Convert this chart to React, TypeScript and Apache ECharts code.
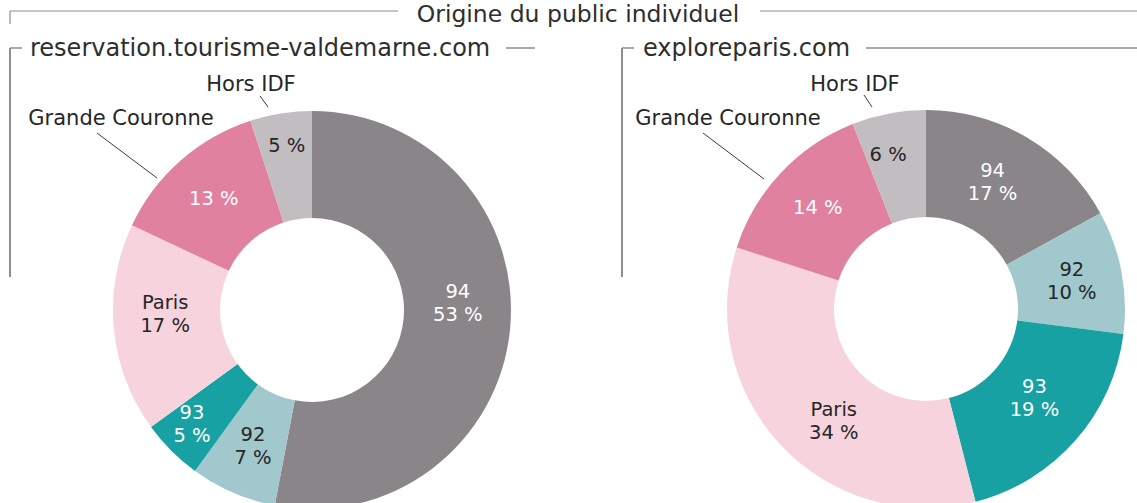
import React, { useEffect, useRef } from "react";
import * as echarts from "echarts";

// ---------- data ----------
const categories = ["94", "92", "93", "Paris", "Grande Couronne", "Hors IDF"];
const valdemarneValues = [53, 7, 5, 17, 13, 5];
const exploreparisValues = [17, 10, 19, 34, 14, 6];
const mainTitle = "Origine du public individuel";
const subTitles = ["reservation.tourisme-valdemarne.com", "exploreparis.com"];
// which categories show their name inside the ring
const nameInside = [true, true, true, true, false, false];
// which categories get an outside callout with the name
const nameCallout = [false, false, false, false, true, true];

// ---------- styles ----------
const colors = ["#8a8589", "#a1c8cc", "#17a1a2", "#f6d3dd", "#e081a0", "#c2bdc1"];
const lightLabel = [true, false, true, false, true, false];
const DARK = "#262626";
const FONT = "DejaVu Sans";
const FRAME = "#8e8e8e";

type Callout = { text: [number, number]; line: number[][] };
type PieLayout = {
  center: [number, number];
  nudges: Record<string, [number, number]>;
  callouts: Record<string, Callout>;
};

const leftLayout: PieLayout = {
  center: [312, 310],
  nudges: { "94": [-2, -21], "93": [-15, 9], Paris: [1, -10], "Hors IDF": [-2, -18] },
  callouts: {
    "Grande Couronne": { text: [121, 118], line: [[157, 178], [97, 133]] },
    "Hors IDF": { text: [251, 84], line: [[268, 107], [260, 96]] },
  },
};
const rightLayout: PieLayout = {
  center: [926, 309],
  nudges: { "94": [-9, 1], "93": [-3, -9], Paris: [16, 10], "Hors IDF": [-10, -9] },
  callouts: {
    "Grande Couronne": { text: [728, 118], line: [[764, 179], [703, 133]] },
    "Hors IDF": { text: [855, 84], line: [[872, 107], [864, 95]] },
  },
};

function ringSeries(values: number[], layout: PieLayout): any[] {
  const base = {
    type: "pie",
    center: layout.center,
    radius: [92, 199],
    startAngle: 90,
    clockwise: true,
    silent: true,
    avoidLabelOverlap: false,
    emphasis: { disabled: true },
  };
  return [
    {
      ...base,
      label: {
        show: true,
        position: "inside",
        fontFamily: FONT,
        fontSize: 19.5,
        lineHeight: 23,
        formatter: (p: any) =>
          nameInside[p.dataIndex] ? `${p.name}\n${p.value} %` : `${p.value} %`,
      },
      labelLine: { show: false },
      labelLayout: (p: any) => {
        const n = layout.nudges[categories[p.dataIndex]];
        return n ? { dx: n[0], dy: n[1] } : {};
      },
      data: categories.map((name, i) => ({
        name,
        value: values[i],
        itemStyle: { color: colors[i] },
        label: { color: lightLabel[i] ? "#ffffff" : DARK },
      })),
    },
    {
      ...base,
      z: 3,
      itemStyle: { color: "rgba(0,0,0,0)" },
      label: {
        show: true,
        position: "outside",
        color: DARK,
        fontFamily: FONT,
        fontSize: 21,
        formatter: (p: any) => (nameCallout[p.dataIndex] ? p.name : ""),
      },
      labelLine: { show: true, length: 10, length2: 0, lineStyle: { color: "#3a3a3a", width: 1 } },
      labelLayout: (p: any) => {
        const c = layout.callouts[categories[p.dataIndex]];
        if (!c) return {};
        return {
          x: c.text[0],
          y: c.text[1],
          align: "center",
          verticalAlign: "middle",
          labelLinePoints: c.line,
        };
      },
      data: categories.map((name, i) => ({
        name,
        value: values[i],
        label: { show: nameCallout[i] },
        labelLine: { show: nameCallout[i] },
      })),
    },
  ];
}

function frameGraphics(): any[] {
  const line = (x1: number, y1: number, x2: number, y2: number, w = 1.5) => ({
    type: "line",
    silent: true,
    shape: { x1, y1, x2, y2 },
    style: { stroke: FRAME, lineWidth: w },
  });
  const text = (x: number, y: number, t: string, align: string, size: number) => ({
    type: "text",
    silent: true,
    x,
    y,
    style: {
      text: t,
      fill: "#2e2e2e",
      font: `${size}px "${FONT}"`,
      align,
      verticalAlign: "middle",
    },
  });
  return [
    // main title with its rule
    line(10, 11, 398, 11, 1.2),
    line(10, 11, 10, 24, 1.2),
    line(760, 11, 1137, 11, 1.2),
    text(578, 14, mainTitle, "center", 23.5),
    // left bracket
    line(10, 48, 22, 48),
    line(10, 48, 10, 277, 2),
    line(506, 48, 535, 48),
    text(30, 48, subTitles[0], "left", 24),
    // right bracket
    line(622, 48, 634, 48),
    line(622, 48, 622, 277, 2),
    line(866, 48, 1137, 48),
    text(643, 48, subTitles[1], "left", 24),
  ];
}

export default function App() {
  const ref = useRef<HTMLDivElement>(null);
  useEffect(() => {
    if (!ref.current) return;
    const chart = echarts.init(ref.current, undefined, { renderer: "svg" });
    chart.setOption({
      animation: false,
      backgroundColor: "#ffffff",
      textStyle: { fontFamily: FONT },
      graphic: frameGraphics(),
      series: [
        ...ringSeries(valdemarneValues, leftLayout),
        ...ringSeries(exploreparisValues, rightLayout),
      ],
    });
    return () => chart.dispose();
  }, []);
  return (
    <div
      ref={ref}
      style={{ position: "fixed", left: 0, top: 0, width: 1137, height: 503 }}
    />
  );
}
